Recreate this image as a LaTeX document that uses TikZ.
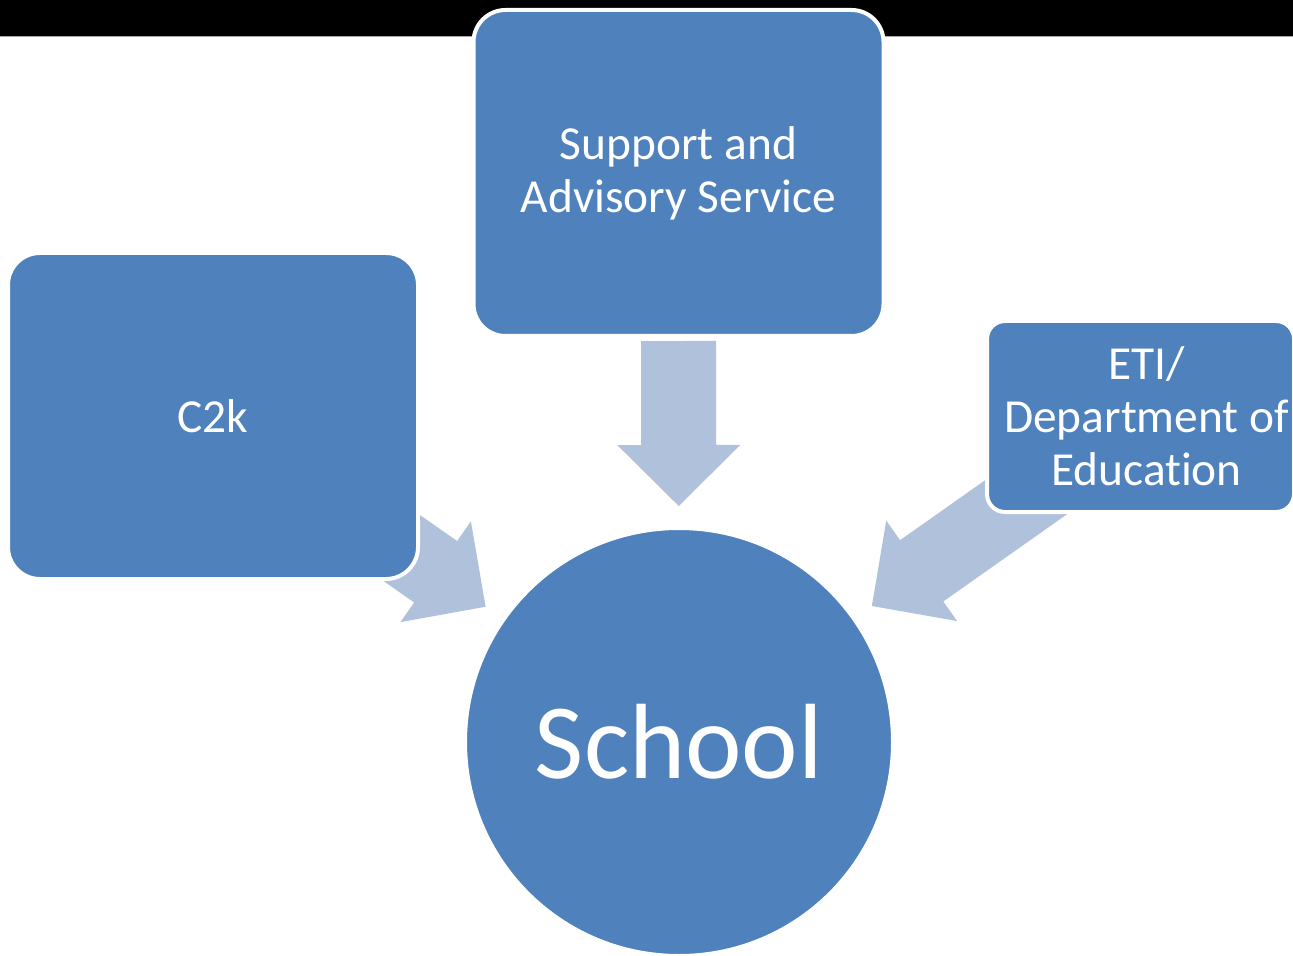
\documentclass[tikz,border=0pt]{standalone}
\usepackage{fontspec}
\setmainfont{Carlito}[Ligatures=NoCommon]
\usetikzlibrary{calc,backgrounds}
\definecolor{boxblue}{HTML}{4F81BD}
\definecolor{flowblue}{HTML}{B0C1DC}

\begin{document}
\begin{tikzpicture}[x=0.5pt, y=-0.5pt]
    \tikzstyle{agency}=[rectangle, fill=boxblue, draw=white, line width=2pt, text=white, align=center, inner sep=0pt, font=\fontsize{23.7}{26.5}\selectfont]
    \tikzstyle{big}=[agency, minimum width=205pt, minimum height=163pt, rounded corners=16pt]
    \tikzstyle{hub}=[circle, fill=boxblue, draw=white, line width=2pt, text=white, minimum size=214pt, inner sep=0pt, font=\fontsize{53.5}{60}\selectfont]
    \tikzstyle{flow}=[fill=flowblue]
    \useasboundingbox (0,0) rectangle (1293,956);
    \fill[black] (0,0) rectangle (1293,36);
    \draw[gray!70, line width=0.5pt] (0,36.5) -- (1293,36.5);

    \node[big] (sas) at (678.5,173) {Support and\\Advisory Service};
    \node[big] (c2k) at (213,416) {C2k};
    \node[agency, minimum width=153.5pt, minimum height=95.5pt, rounded corners=9pt] (eti) at (1140.5,416.5) {\hspace*{6pt}ETI/\\\hspace*{6pt}Department of\\\hspace*{6pt}Education};
    \node[hub] (school) at (679,742) {School};

    % block arrows into the school
    \begin{scope}[on background layer]
      \foreach \src/\len in {c2k/200.5pt,sas/200.5pt,eti/250pt}
      {
        \path ($(school.center)!118pt!(\src.center)$) coordinate (tip)
              ($(school.center)!\len!(\src.center)$) coordinate (tail)
              ($(tip)!30.5pt!(tail)$) coordinate (base);
        \fill[flow] ($(tail)!18.75pt!90:(tip)$) -- ($(base)!18.75pt!90:(tip)$) -- ($(base)!30.75pt!90:(tip)$) -- (tip)
          -- ($(base)!30.75pt!-90:(tip)$) -- ($(base)!18.75pt!-90:(tip)$) -- ($(tail)!18.75pt!-90:(tip)$) -- cycle;
      }
    \end{scope}
  \end{tikzpicture}
\end{document}
